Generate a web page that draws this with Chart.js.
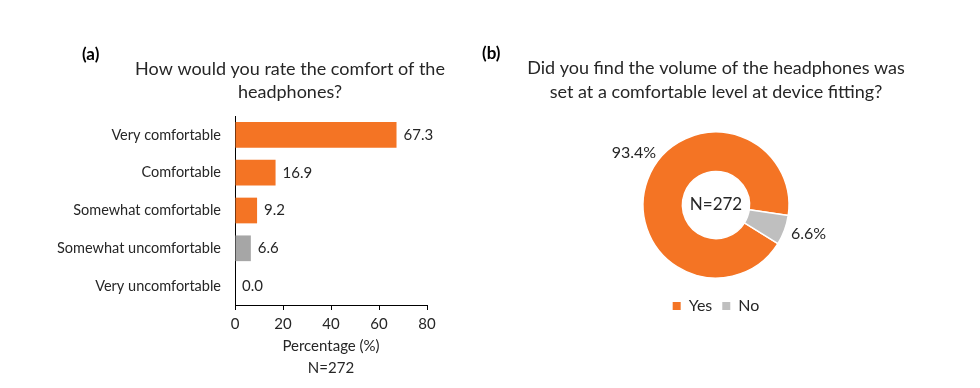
<!DOCTYPE html>
<html>
<head>
<meta charset="utf-8">
<title>Headphone comfort survey</title>
<script src="https://cdn.jsdelivr.net/npm/chart.js@4.4.1/dist/chart.umd.min.js"></script>
<style>
  html, body { margin: 0; padding: 0; background: #fff; }
  #wrap { position: relative; width: 980px; height: 388px; overflow: hidden; }
  #comfortChart { position: absolute; left: 0; top: 0; }
  #volumeChart { position: absolute; left: 466px; top: 0; }
</style>
</head>
<body>
<div id="wrap">
  <canvas id="comfortChart" width="480" height="388"></canvas>
  <canvas id="volumeChart" width="500" height="388"></canvas>
</div>
<script>
// data
const comfortLabels = ['Very comfortable', 'Comfortable', 'Somewhat comfortable', 'Somewhat uncomfortable', 'Very uncomfortable'];
const comfortValues = [67.3, 16.9, 9.2, 6.6, 0.0];
const comfortTicks = [0, 20, 40, 60, 80];
const volumeLabels = ['Yes', 'No'];
const volumeValues = [93.4, 6.6];
const sampleSize = 272;

const ORANGE = '#F47424';
const GREY_BAR = '#A6A6A6';
const GREY_SLICE = '#BFBFBF';
const TEXT = '#262626';
const FONT = 'Lato, "Open Sans", sans-serif';

Chart.defaults.font.family = FONT;
Chart.defaults.color = TEXT;

// "(a)" / "(b)" panel letters, plus an optional free-standing title
const panelText = {
  id: 'panelText',
  afterDraw(chart, args, opts) {
    const ctx = chart.ctx;
    ctx.save();
    ctx.font = 'bold 17px ' + FONT;
    ctx.fillStyle = '#000';
    ctx.textBaseline = 'middle';
    ctx.fillText(opts.letter, opts.x, opts.y);
    if (opts.title) {
      ctx.font = '18px ' + FONT;
      ctx.fillStyle = TEXT;
      ctx.textAlign = 'center';
      opts.title.forEach((line, i) => {
        ctx.fillText(line, opts.titleX, opts.titleY + i * opts.titleLine);
      });
    }
    ctx.restore();
  }
};

// value at the end of each bar
const barValues = {
  id: 'barValues',
  afterDatasetsDraw(chart) {
    const ctx = chart.ctx;
    const meta = chart.getDatasetMeta(0);
    ctx.save();
    ctx.font = '15px ' + FONT;
    ctx.fillStyle = TEXT;
    ctx.textAlign = 'left';
    ctx.textBaseline = 'middle';
    meta.data.forEach((bar, i) => {
      ctx.fillText(comfortValues[i].toFixed(1), bar.x + 7, bar.y);
    });
    ctx.restore();
  }
};

// percentages outside the ring and N in the hole
const sliceLabels = {
  id: 'sliceLabels',
  afterDatasetsDraw(chart, args, opts) {
    const ctx = chart.ctx;
    const meta = chart.getDatasetMeta(0);
    ctx.save();
    ctx.fillStyle = TEXT;
    ctx.textAlign = 'center';
    ctx.textBaseline = 'middle';
    ctx.font = '16px ' + FONT;
    meta.data.forEach((arc, i) => {
      const p = arc.getProps(['x', 'y', 'startAngle', 'endAngle', 'outerRadius']);
      const a = p.startAngle + (p.endAngle - p.startAngle) * opts.anchor[i];
      const d = p.outerRadius + opts.offset;
      ctx.fillText(volumeValues[i].toFixed(1) + '%', p.x + d * Math.cos(a), p.y + d * Math.sin(a));
    });
    ctx.font = '17px ' + FONT;
    ctx.fillText('N=' + sampleSize, meta.data[0].x, meta.data[0].y);
    ctx.restore();
  }
};

const comfortColors = comfortLabels.map(l => l.includes('uncomfortable') ? GREY_BAR : ORANGE);

new Chart(document.getElementById('comfortChart'), {
  type: 'bar',
  data: {
    labels: comfortLabels,
    datasets: [{
      data: comfortValues,
      backgroundColor: comfortColors,
      barPercentage: 0.68,
      categoryPercentage: 1
    }]
  },
  options: {
    indexAxis: 'y',
    responsive: false,
    animation: false,
    layout: { padding: { left: 0, right: 53, top: 116, bottom: 0 } },
    scales: {
      x: {
        min: 0,
        max: 80,
        afterBuildTicks(scale) { scale.ticks = comfortTicks.map(v => ({ value: v })); },
        ticks: { padding: 5, font: { size: 15 }, color: TEXT },
        grid: { drawOnChartArea: false, drawTicks: true, tickLength: 5, color: '#000' },
        border: { color: '#000', width: 1 },
        title: {
          display: true,
          text: ['Percentage (%)', 'N=' + sampleSize],
          font: { size: 15, lineHeight: 1.47 },
          padding: { top: 0, bottom: 9 },
          color: TEXT
        },
        afterFit(scale) { scale.height = 83; }
      },
      y: {
        grid: { display: false, drawTicks: false },
        border: { color: '#000', width: 1 },
        ticks: { padding: 14, font: { size: 14.5 }, color: TEXT },
        afterFit(scale) { scale.width = 235; }
      }
    },
    plugins: {
      legend: { display: false },
      tooltip: { enabled: false },
      panelText: {
        letter: '(a)', x: 82, y: 55,
        title: ['How would you rate the comfort of the', 'headphones?'],
        titleX: 290, titleY: 69, titleLine: 23
      }
    }
  },
  plugins: [panelText, barValues]
});

new Chart(document.getElementById('volumeChart'), {
  type: 'doughnut',
  data: {
    labels: volumeLabels,
    datasets: [{
      data: volumeValues,
      backgroundColor: [ORANGE, GREY_SLICE],
      borderColor: '#fff',
      borderWidth: 1.5
    }]
  },
  options: {
    responsive: false,
    animation: false,
    rotation: 122,
    radius: 73,
    cutout: '46%',
    layout: { padding: { top: 0, bottom: 64, left: 0, right: 0 } },
    plugins: {
      title: {
        display: true,
        text: ['Did you find the volume of the headphones was', 'set at a comfortable level at device fitting?'],
        font: { size: 18, weight: 'normal', lineHeight: 1.333 },
        padding: { top: 56, bottom: 18 },
        color: TEXT
      },
      legend: {
        position: 'bottom',
        labels: {
          boxWidth: 8,
          boxHeight: 8,
          padding: 10,
          font: { size: 16 },
          color: TEXT,
          generateLabels(chart) {
            return Chart.overrides.doughnut.plugins.legend.labels.generateLabels(chart)
              .map(item => ({ ...item, lineWidth: 0 }));
          }
        }
      },
      tooltip: { enabled: false },
      panelText: { letter: '(b)', x: 16, y: 54 },
      sliceLabels: { anchor: [0.536, 0.39], offset: 24 }
    }
  },
  plugins: [panelText, sliceLabels]
});
</script>
</body>
</html>
